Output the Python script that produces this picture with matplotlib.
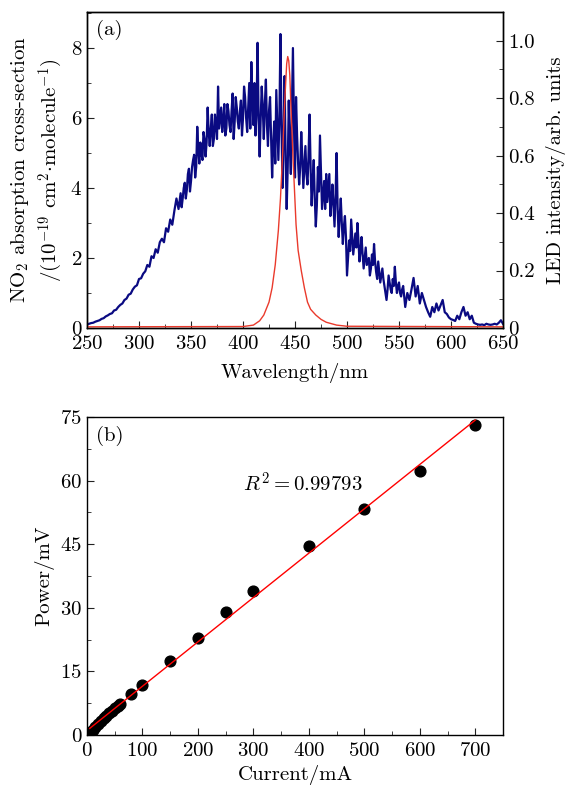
import numpy as np
import matplotlib
matplotlib.use('Agg')
import matplotlib.pyplot as plt
from matplotlib.ticker import MultipleLocator

plt.rcParams['font.family'] = 'cmr10'
plt.rcParams['mathtext.fontset'] = 'cm'
plt.rcParams['axes.unicode_minus'] = False
plt.rcParams['axes.formatter.use_mathtext'] = True

# NO2 absorption cross-section, every 2 nm
wl = np.arange(250, 651, 2)
no2 = [0.10, 0.12, 0.14, 0.15, 0.18, 0.20, 0.22, 0.26, 0.28, 0.33, 0.36, 0.40, 0.42,
       0.50, 0.52, 0.60, 0.66, 0.70, 0.80, 0.84, 0.95, 0.98, 1.10, 1.18, 1.22, 1.40,
       1.42, 1.55, 1.62, 1.80, 1.75, 2.05, 2.00, 2.25, 2.15, 2.45, 2.55, 2.45, 2.85,
       2.75, 3.10, 2.95, 3.35, 3.70, 3.40, 3.85, 3.70, 4.15, 3.95, 4.55, 4.20,
       4.80, 4.30, 5.75, 4.70, 5.00, 5.60, 4.90, 6.30, 5.20, 6.10, 5.40, 5.80, 6.90,
       6.00, 5.60, 6.40, 5.70, 6.20, 5.60, 6.70, 5.90, 6.30, 5.70, 6.50, 6.00,
       6.60, 5.60, 7.00, 7.60, 5.80, 5.50, 8.15, 4.90, 6.90, 5.40, 7.10, 5.20, 6.60,
       4.30, 5.90, 6.80, 4.80, 8.40,
       4.00, 7.20, 3.40, 6.50, 4.40, 8.00, 4.30, 5.50, 4.10, 5.60, 4.00, 5.20,
       4.10, 6.10, 3.50, 4.80, 2.90, 4.60, 5.50, 3.40, 4.20, 4.40, 4.00, 3.20,
       4.10, 2.90, 5.00, 2.60, 3.70, 2.40, 3.20, 1.50,
       2.50, 3.10, 2.10, 2.70, 3.00, 1.90, 2.60, 1.70, 2.30, 1.90, 1.50, 2.10, 2.40,
       1.60, 1.90, 1.30, 1.70, 1.20, 0.80, 1.50, 1.10, 1.40, 1.75, 1.00, 1.30,
       0.90, 1.20, 0.60, 1.00, 0.80, 1.10, 1.43, 0.90, 1.20, 0.70, 1.00, 0.80, 0.60,
       0.45, 0.32, 0.60, 0.45, 0.70, 0.50, 0.65, 0.80, 0.45, 0.40, 0.30, 0.25,
       0.23, 0.20, 0.35, 0.25, 0.45, 0.60, 0.35, 0.45, 0.25, 0.35, 0.15, 0.12, 0.10,
       0.09, 0.10, 0.08, 0.12, 0.10, 0.09, 0.10, 0.12, 0.10, 0.15, 0.22, 0.12]

# extra readings at the odd wavelengths in the noisy part (341-559 nm)
wl_odd = np.arange(341, 560, 2)
no2_odd = [3.45, 4.00, 3.70, 4.40, 3.90, 4.60, 4.95, 4.60, 5.10, 5.30,
           4.80, 5.40, 5.30, 5.60, 5.70, 5.20, 6.10, 5.40, 5.70, 6.30,
           5.90, 5.50, 6.40, 5.80, 6.20, 5.40, 6.60, 5.90, 6.20, 5.50,
           6.90, 6.00, 6.30, 5.70, 6.50, 7.00, 6.20, 6.00, 6.00, 6.30,
           6.40, 5.80, 6.20, 5.40, 5.20, 4.70, 5.80, 6.00, 5.80, 5.50,
           4.80, 4.60, 5.20, 6.20, 5.80, 6.60, 4.70, 4.60, 4.90, 4.60,
           4.40, 4.90, 4.60, 4.20, 3.70, 3.50, 3.90, 4.40, 3.80, 3.40,
           3.60, 4.40, 3.60, 3.50, 3.80, 3.40, 3.20, 3.00, 2.90, 2.60,
           2.00, 2.20, 2.60, 2.40, 2.30, 2.50, 2.20, 2.10, 2.00, 1.80,
           2.00, 1.70, 1.80, 1.90, 1.40, 1.60, 1.50, 1.40, 1.00, 1.10,
           1.30, 1.00, 1.20, 1.30, 1.20, 1.00, 1.10, 0.90, 0.80, 0.90]

# LED emission spectrum
led_wl = [250, 400, 410, 416, 420, 425, 428, 431, 434, 436, 438, 440, 442, 443, 444,
          445, 446, 448, 449, 450, 451, 453, 456, 459, 462, 465, 470, 475, 480, 490,
          500, 650]
led = [0.004, 0.005, 0.010, 0.025, 0.045, 0.090, 0.140, 0.220, 0.340, 0.450, 0.600,
       0.780, 0.920, 0.945, 0.930, 0.880, 0.780, 0.600, 0.520, 0.440, 0.360, 0.270,
       0.200, 0.140, 0.090, 0.065, 0.045, 0.030, 0.020, 0.010, 0.006, 0.004]

# LED power vs drive current
current = [5, 10, 15, 20, 25, 30, 35, 40, 45, 50, 55, 60, 80, 100, 150, 200, 250,
           300, 400, 500, 600, 700]
power = [0.6, 1.2, 1.9, 2.6, 3.2, 3.9, 4.5, 5.1, 5.7, 6.3, 6.8, 7.2, 9.7, 11.8,
         17.4, 22.9, 29.1, 33.9, 44.5, 53.4, 62.2, 73.0]

x_all = np.concatenate([wl, wl_odd])
y_all = np.concatenate([no2, no2_odd])
order = np.argsort(x_all)

fs = 15
fig = plt.figure(figsize=(5.71, 7.85), dpi=100)

ax1 = fig.add_axes([0.1524, 0.5822, 0.7285, 0.4025])
ax1.plot(x_all[order], y_all[order], color='#0a0a82', lw=1.6)
ax1.set_xlim(250, 650)
ax1.set_ylim(0, 9.03)
ax1.xaxis.set_major_locator(MultipleLocator(50))
ax1.xaxis.set_minor_locator(MultipleLocator(25))
ax1.yaxis.set_major_locator(MultipleLocator(2))
ax1.yaxis.set_minor_locator(MultipleLocator(1))
ax1.set_xlabel('Wavelength/nm', fontsize=fs, labelpad=7)
ax1.set_ylabel('NO$_2$ absorption cross-section\n'
               '/(10$^{-19}$ cm$^2$$\\cdot$molecule$^{-1}$)', fontsize=fs,
               linespacing=1.25)
ax1.text(0.022, 0.943, '(a)', transform=ax1.transAxes, fontsize=fs, va='center')

ax2 = ax1.twinx()
ax2.plot(led_wl, led, color='#ea3a2c', lw=1.0)
ax2.set_ylim(0, 1.1)
ax2.yaxis.set_minor_locator(MultipleLocator(0.1))
ax2.set_yticks([0, 0.2, 0.4, 0.6, 0.8, 1.0], ['0', '0.2', '0.4', '0.6', '0.8', '1.0'])
ax2.set_ylabel('LED intensity/arb. units', fontsize=fs, labelpad=8)

ax3 = fig.add_axes([0.1524, 0.0637, 0.7285, 0.4051])
coef = np.polyfit(current, power, 1)
xfit = np.array([current[0], current[-1]])
ax3.plot(xfit, np.polyval(coef, xfit), color='red', lw=1.0, zorder=3)
ax3.scatter(current, power, s=60, color='black', zorder=2)
ax3.set_xlim(0, 750)
ax3.set_ylim(0, 75)
ax3.xaxis.set_major_locator(MultipleLocator(100))
ax3.xaxis.set_minor_locator(MultipleLocator(50))
ax3.yaxis.set_major_locator(MultipleLocator(15))
ax3.yaxis.set_minor_locator(MultipleLocator(7.5))
ax3.set_xlabel('Current/mA', fontsize=fs, labelpad=4)
ax3.set_ylabel('Power/mV', fontsize=fs)
ax3.text(282, 57.3, '$R^2 = 0.99793$', fontsize=fs)
ax3.text(0.022, 0.94, '(b)', transform=ax3.transAxes, fontsize=fs, va='center')

for ax in (ax1, ax2, ax3):
    ax.tick_params(which='both', direction='in', labelsize=fs, color='#222222')
    ax.tick_params(which='major', length=5)
    ax.tick_params(which='minor', length=3)
    for sp in ax.spines.values():
        sp.set_linewidth(1.0)
for ax in (ax1, ax3):
    ax.tick_params(which='both', top=False, right=False)
    ax.tick_params(axis='x', pad=5)

fig.savefig('out.png', dpi=100)
